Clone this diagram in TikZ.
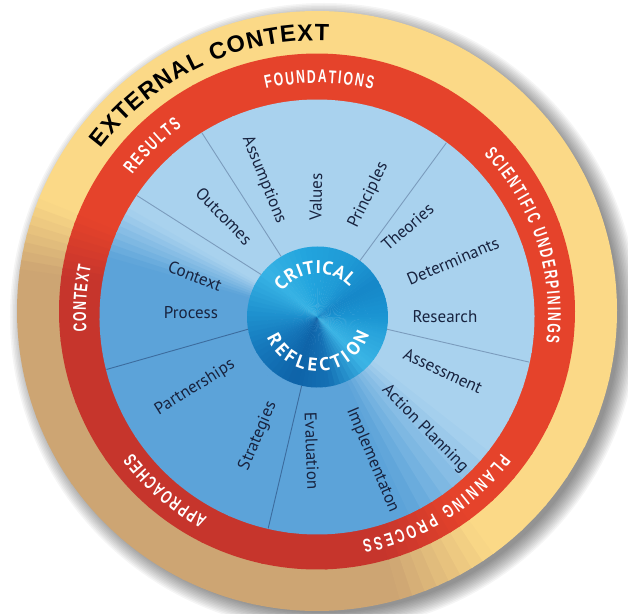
\documentclass[tikz,border=0pt]{standalone}
\usepackage{fontspec}
\setmainfont{PT Sans}
\newfontfamily\lblfont{PT Sans}
\newfontfamily\hubfont{PT Sans}
\newfontfamily\ringfont[FakeStretch=0.66]{Liberation Sans}
\newfontfamily\extfont{Liberation Sans}
\usetikzlibrary{decorations.text}

\definecolor{goldL}{HTML}{FBD987}
\definecolor{goldD}{HTML}{CDA573}
\definecolor{redL}{HTML}{E5432B}
\definecolor{redD}{HTML}{C6352C}
\definecolor{blueL}{HTML}{A9D2EE}
\definecolor{blueD}{HTML}{5CA3D9}
\definecolor{lbltext}{HTML}{18233F}
\definecolor{spokeL}{HTML}{7B9CBD}
\definecolor{spokeD}{HTML}{3C6C9E}
\definecolor{hA}{HTML}{1B95D3}
\definecolor{hB}{HTML}{1687C8}
\definecolor{hC}{HTML}{1F9AD6}
\definecolor{hD}{HTML}{22A4DD}
\definecolor{hE}{HTML}{38B3E5}
\definecolor{hF}{HTML}{1F93D0}
\definecolor{hG}{HTML}{1577BB}
\definecolor{hH}{HTML}{0E63A8}
\definecolor{hI}{HTML}{1470B4}
\definecolor{hJ}{HTML}{3BB5E6}
\definecolor{hK}{HTML}{28A3DB}

% conic (angle-dependent) fill: #1 centre, #2 radius, #3 list start/end/colour1/colour2
\newcommand\conicfill[3]{%
  \foreach \ka/\kb/\kc/\kd in {#3} {%
    \foreach \ki in {0,...,7} {%
      \pgfmathsetmacro\ks{\ka+(\kb-\ka)*\ki/8}%
      \pgfmathsetmacro\ke{\ka+(\kb-\ka)*(\ki+1)/8+0.5}%
      \pgfmathsetmacro\kp{100*(\ki+0.5)/8}%
      \fill[\kd!\kp!\kc] (#1) -- ++(\ks:#2) arc[start angle=\ks, end angle=\ke, radius=#2] -- cycle;%
    }%
  }%
}

\tikzset{
  lbl/.style={font=\lblfont\fontsize{17}{20}\selectfont, text=lbltext, inner sep=0pt},
  spoke/.style={draw=spokeL, line width=0.9pt},
  spokedark/.style={draw=spokeD, line width=0.9pt},
  ringtext/.style={decorate, decoration={text along path, text align={fit to path},
    text={|\ringfont\bfseries\fontsize{18.5}{20}\selectfont\color{white}|#1}}},
  hubtext/.style={decorate, decoration={text along path, text align={fit to path},
    text={|\hubfont\bfseries\fontsize{18.5}{20}\selectfont\color{white}|#1}}},
  exttext/.style={decorate, decoration={text along path, text align={fit to path},
    text={|\extfont\bfseries\fontsize{23.5}{26}\selectfont\color{black}|#1}}}
}

\begin{document}
\begin{tikzpicture}[x=1pt,y=1pt]
\useasboundingbox (-317,-296) rectangle (311,317);
\fill[white] (-317,-296) rectangle (311,317);

% soft shadow
\foreach \r in {296,297.5,...,315} \fill[black, opacity=0.04] (7,0) circle[radius=\r];

% outer gold ring
\conicfill{0,6}{300}{0/158/goldL/goldL, 158/172/goldL/goldD, 172/286/goldD/goldD, 286/306/goldD/goldL, 306/360/goldL/goldL}
% red ring
\conicfill{0,5.5}{258}{0/158/redL/redL, 158/172/redL/redD, 172/286/redD/redD, 286/306/redD/redL, 306/360/redL/redL}
% blue disc
\conicfill{0,0}{217.5}{0/150/blueL/blueL, 150/164/blueL/blueD, 164/295/blueD/blueD, 295/322/blueD/blueL, 322/360/blueL/blueL}

% hub
\conicfill{0.5,0}{70.5}{0/30/hA/hB, 30/60/hB/hC, 60/100/hC/hD, 100/140/hD/hE, 140/175/hE/hF, 175/210/hF/hG, 210/250/hG/hH, 250/280/hH/hI, 280/315/hI/hJ, 315/345/hJ/hK, 345/360/hK/hA}
\node[circle, minimum size=141pt, inner sep=0pt] (hub) at (0.5,0) {};

% spokes
\coordinate (e1) at (146:217);
\coordinate (e2) at (122:217);
\coordinate (e3) at (53.4:217);
\coordinate (e4) at (-12:217);
\coordinate (e5) at (257:217);
\coordinate (e6) at (194:217);
\draw[spoke] (hub.143) -- (e1);
\draw[spoke] (hub.121) -- (e2);
\draw[spoke] (hub.53.4) -- (e3);
\draw[spoke] (hub.-10) -- (e4);
\draw[spokedark] (hub.257) -- (e5);
\draw[spokedark] (hub.190) -- (e6);

% hub text
\path[shift={(0.5,0)}, hubtext=CRITICAL] (144:43.5) arc[start angle=144, end angle=43, radius=43.5];
\path[shift={(0.5,0)}, hubtext=REFLECTION] (202:54.5) arc[start angle=202, end angle=341.5, radius=54.5];

% ring labels
\path[shift={(0,3)}, ringtext=FOUNDATIONS] (102.8:231) arc[start angle=102.8, end angle=76.1, radius=231];
\path[shift={(0,3)}, ringtext=RESULTS] (143:231) arc[start angle=143, end angle=125.8, radius=231];
\path[shift={(0,3)}, ringtext=SCIENTIFIC UNDERPININGS] (43.8:231) arc[start angle=43.8, end angle=-7.1, radius=231];
\path[shift={(0,3)}, ringtext=CONTEXT] (184.4:231) arc[start angle=184.4, end angle=168.1, radius=231];
\path[shift={(0,3)}, ringtext=APPROACHES] (241.7:231) arc[start angle=241.7, end angle=217, radius=231];
\path[shift={(0,3)}, ringtext=PLANNING PROCESS] (-37.1:231) arc[start angle=-37.1, end angle=-78.7, radius=231];

% external context
\path[shift={(0,6)}, exttext=EXTERNAL CONTEXT] (143.1:270.5) arc[start angle=143.1, end angle=87.5, radius=270.5];

% inner labels
\node[lbl, rotate=-46] (outcomes) at (-93,101) {Outcomes};
\node[lbl, rotate=-68] (assumptions) at (-53,137) {Assumptions};
\node[lbl, rotate=89] (values) at (-1,120) {Values};
\node[lbl, rotate=64] (principles) at (51.5,122) {Principles};
\node[lbl, rotate=41] (theories) at (90.5,90) {Theories};
\node[lbl, rotate=23] (determinants) at (136,56) {Determinants};
\node[lbl] (research) at (128,0) {Research};
\node[lbl, rotate=-25] (assessment) at (126,-54) {Assessment};
\node[lbl, rotate=-45.5] (actionplanning) at (108,-112) {Action Planning};
\node[lbl, rotate=-67] (implementaton) at (55.5,-143) {Implementaton};
\node[lbl, rotate=-88] (evaluation) at (-5,-134) {Evaluation};
\node[lbl, rotate=67] (strategies) at (-59,-119) {Strategies};
\node[lbl, rotate=32] (partnerships) at (-122,-70.5) {Partnerships};
\node[lbl] (process) at (-126,4.5) {Process};
\node[lbl, rotate=-21] (context) at (-122,41) {Context};
\end{tikzpicture}
\end{document}
